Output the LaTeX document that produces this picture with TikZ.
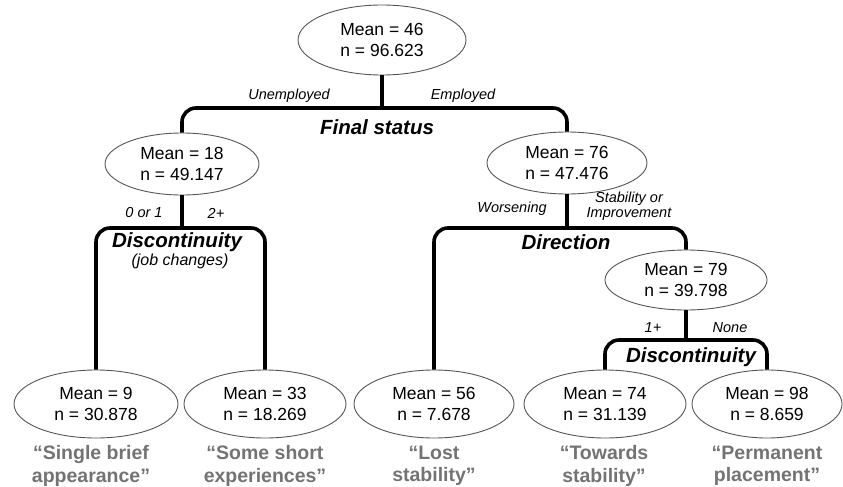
\documentclass[tikz,border=0pt]{standalone}
\usepackage{fontspec}
\setmainfont{Liberation Sans}
\usetikzlibrary{shapes.geometric}
\definecolor{lbl}{HTML}{737373}
\definecolor{edge}{HTML}{555555}
\tikzset{
  leaf/.style={ellipse, draw=edge, line width=0.9pt, minimum width=#1, minimum height=62pt, inner sep=0pt, align=center, font=\fontsize{17.5}{20.5}\selectfont},
  leaf/.default=160pt,
  branch/.style={line width=3.6pt, rounded corners=14pt},
  split/.style={font=\fontsize{20.5}{22}\selectfont\bfseries\itshape},
  cond/.style={font=\fontsize{14.5}{15}\selectfont\itshape, align=center},
  sub/.style={font=\fontsize{16}{16}\selectfont\itshape},
  tag/.style={font=\fontsize{19.5}{22.5}\selectfont\bfseries, text=lbl, align=center},
}
\begin{document}
\begin{tikzpicture}[x=1pt,y=-1pt]
\useasboundingbox (0,0) rectangle (843,487);
% nodes
\node[leaf=168pt, minimum height=70pt] (root) at (382,40) {Mean = 46\\n = 96.623};
\node[leaf=154pt] (m18) at (182,164) {Mean = 18\\n = 49.147};
\node[leaf=160pt] (m76) at (567,163) {Mean = 76\\n = 47.476};
\node[leaf=162pt, minimum height=60pt] (m79) at (686,280) {Mean = 79\\n = 39.798};
\node[leaf=164pt, minimum height=68pt] (m9) at (96,404) {Mean = 9\\n = 30.878};
\node[leaf=162pt, minimum height=68pt] (m33) at (265,404) {Mean = 33\\n = 18.269};
\node[leaf=160pt, minimum height=68pt] (m56) at (434,404) {Mean = 56\\n = 7.678};
\node[leaf=162pt, minimum height=68pt] (m74) at (605,404) {Mean = 74\\n = 31.139};
\node[leaf=150pt, minimum height=68pt] (m98) at (767,404) {Mean = 98\\n = 8.659};
% junctions
\coordinate (j1) at (382,108);
\coordinate (j2) at (182,228);
\coordinate (j3) at (567,228);
\coordinate (j4) at (686,340);
% connectors
\draw[line width=3.6pt] (root.south) -- (j1);
\draw[branch] (m18.north) |- (j1) -| (m76.north);
\draw[line width=3.6pt] (m18.south) -- (j2);
\draw[branch] (m9.north) |- (j2) -| (m33.north);
\draw[line width=3.6pt] (m76.south) -- (j3);
\draw[branch] (m56.north) |- (j3) -| (m79.north);
\draw[line width=3.6pt] (m79.south) -- (j4);
\draw[branch] (m74.north) |- (j4) -| (m98.north);
% split labels
\node[split] (s1) at (377,127) {Final status};
\node[split] (s2) at (177,242) {Discontinuity};
\node[sub] (s2b) at (180,261) {(job changes)};
\node[split] (s3) at (566,242) {Direction};
\node[split] (s4) at (691,357) {Discontinuity};
% condition labels
\node[cond] (c1) at (289,96) {Unemployed};
\node[cond] (c2) at (463,96) {Employed};
\node[cond] (c3) at (144,213) {0 or 1};
\node[cond] (c4) at (216,213) {2+};
\node[cond] (c5) at (512,209) {Worsening};
\node[cond] (c6) at (629,206) {Stability or\\Improvement};
\node[cond] (c7) at (653,328) {1+};
\node[cond] (c8) at (730,328) {None};
% tags
\node[tag] (t1) at (91,466) {“Single brief\\appearance”};
\node[tag] (t2) at (265,466) {“Some short\\experiences”};
\node[tag] (t3) at (434,466) {“Lost\\stability”};
\node[tag] (t4) at (604,466) {“Towards\\stability”};
\node[tag] (t5) at (767,466) {“Permanent\\placement”};
\end{tikzpicture}
\end{document}
